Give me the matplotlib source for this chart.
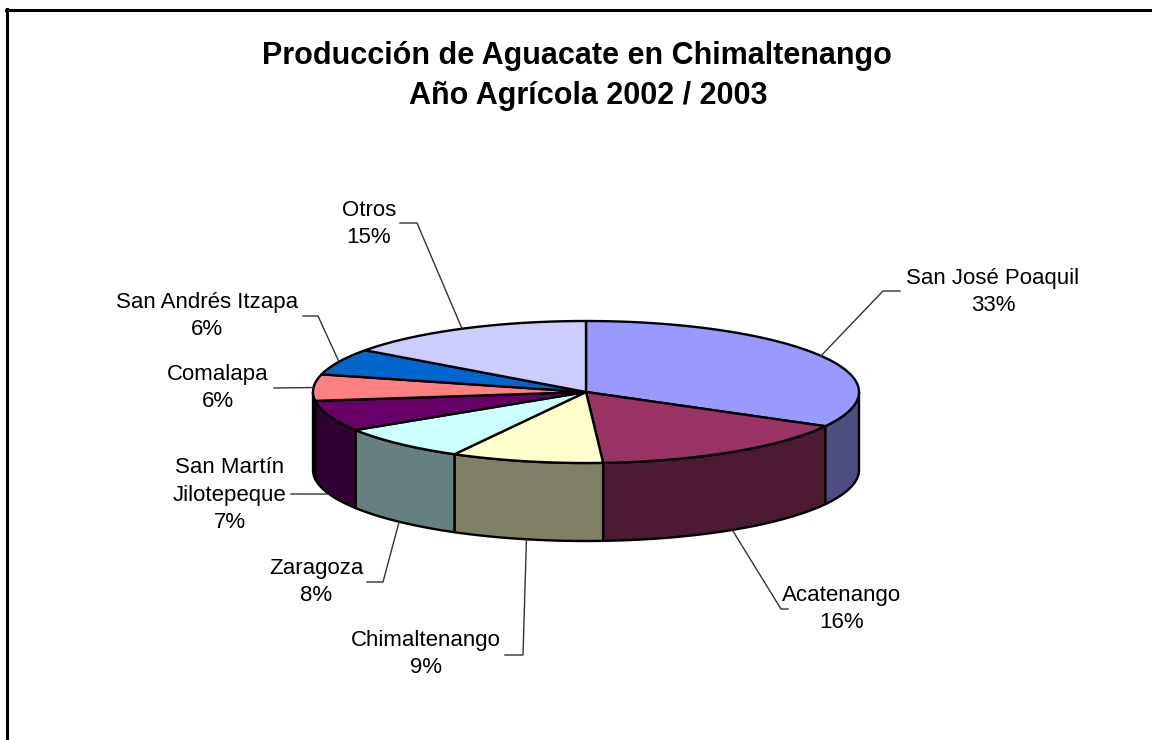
import numpy as np
import matplotlib
matplotlib.use('Agg')
import matplotlib.pyplot as plt
from matplotlib.patches import Polygon
from matplotlib.lines import Line2D

# ---------------- data ----------------
categories = ['San José Poaquil', 'Acatenango', 'Chimaltenango', 'Zaragoza',
              'San Martín\nJilotepeque', 'Comalapa', 'San Andrés Itzapa', 'Otros']
values = [33, 16, 9, 8, 7, 6, 6, 15]
top_colors = ['#9999FF', '#993366', '#FFFFCC', '#CCFFFF',
              '#660066', '#FF8080', '#0066CC', '#CCCCFF']
title_lines = ['Producción de Aguacate en Chimaltenango', 'Año Agrícola 2002 / 2003']

# ---------------- layout ----------------
W, H = 1152, 740
CX, CY, RX, RY, DEPTH = 586, 392, 273, 71, 78
# text centre, leader end at text, elbow
label_text_xy = [(993, 292), (842, 609), (426, 654), (316, 582),
                 (230, 495), (218, 388), (207, 316), (369, 224)]
leader_start = [(900, 291), (788, 609), (505, 655), (367, 582),
                (291, 494), (274, 388), (303, 316), (400, 223)]
leader_elbow = [(883, 291), (781, 609), (523, 655), (383, 582),
                (291, 494), (274, 388), (318, 316), (417, 223)]

FONT = ['Liberation Sans', 'DejaVu Sans']

fig = plt.figure(figsize=(W / 100, H / 100), dpi=100)
ax = fig.add_axes([0, 0, 1, 1])
ax.set_xlim(0, W)
ax.set_ylim(H, 0)
ax.axis('off')


def pt(theta_deg, dy=0.0):
    t = np.radians(theta_deg)
    return CX + RX * np.sin(t), CY - RY * np.cos(t) + dy


def darker(c):
    r, g, b = matplotlib.colors.to_rgb(c)
    return (r * 0.5, g * 0.5, b * 0.5)


total = float(sum(values))
bounds = np.concatenate([[0], np.cumsum(values)]) / total * 360.0

# side walls (front half: 90..270 degrees)
for i, c in enumerate(top_colors):
    a0, a1 = bounds[i], bounds[i + 1]
    s0, s1 = max(a0, 90), min(a1, 270)
    if s1 > s0:
        th = np.linspace(s0, s1, 80)
        xs, ys = pt(th)
        xb, yb = pt(th[::-1], DEPTH)
        poly = np.column_stack([np.concatenate([xs, xb]), np.concatenate([ys, yb])])
        ax.add_patch(Polygon(poly, closed=True, facecolor=darker(c),
                             edgecolor='black', lw=1.7, joinstyle='round'))

# top faces
for i, c in enumerate(top_colors):
    a0, a1 = bounds[i], bounds[i + 1]
    th = np.linspace(a0, a1, 120)
    xs, ys = pt(th)
    poly = np.column_stack([np.concatenate([[CX], xs]), np.concatenate([[CY], ys])])
    ax.add_patch(Polygon(poly, closed=True, facecolor=c, edgecolor='black',
                         lw=1.7, joinstyle='round'))

# labels with leader lines
for i, name in enumerate(categories):
    mid = (bounds[i] + bounds[i + 1]) / 2
    dy = DEPTH if 90 < mid < 270 else 0
    ax_, ay_ = pt(mid, dy)
    sx, sy = leader_start[i]
    ex, ey = leader_elbow[i]
    ax.add_line(Line2D([sx, ex, ax_], [sy, ey, ay_], color='#333333', lw=1.0))
    pct = f"{values[i] / total * 100:.0f}%"
    tx, ty = label_text_xy[i]
    ax.text(tx, ty, f"{name}\n{pct}", ha='center', va='center', fontsize=16,
            family=FONT, linespacing=1.42, color='black')

# title
ax.text(577, 56, title_lines[0], ha='center', va='center', fontsize=22,
        fontweight='bold', family=FONT)
ax.text(588, 96, title_lines[1], ha='center', va='center', fontsize=22,
        fontweight='bold', family=FONT)

# chart area border (extends beyond the image on right/bottom)
ax.add_line(Line2D([7, 7], [9, H + 5], color='black', lw=2.2))
ax.add_line(Line2D([6, W + 5], [9.5, 9.5], color='black', lw=2.2))

fig.savefig('out.png', dpi=100)
